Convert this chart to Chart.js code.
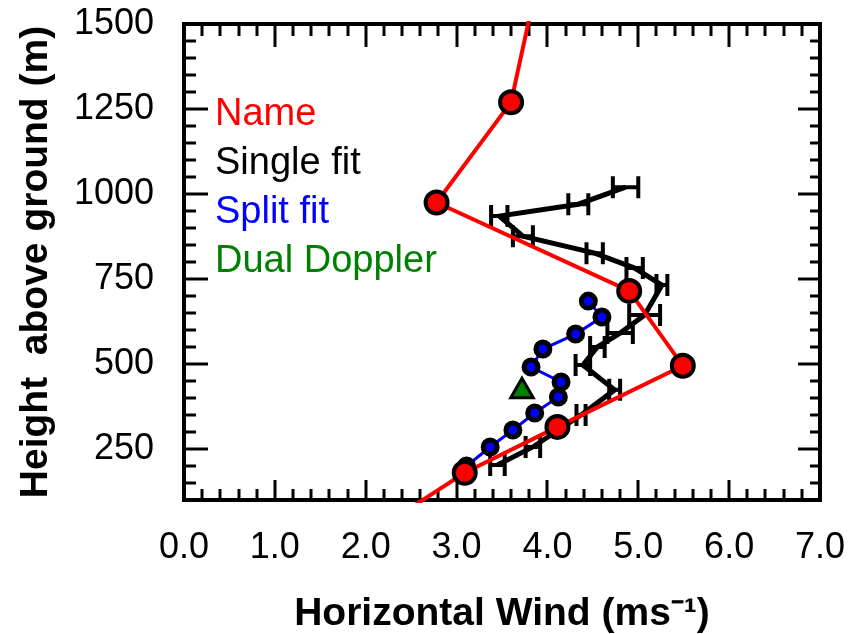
<!DOCTYPE html>
<html>
<head>
<meta charset="utf-8">
<script src="https://cdn.jsdelivr.net/npm/chart.js@4.4.1/dist/chart.umd.min.js"></script>
<style>
  html, body { margin: 0; padding: 0; background: #fff; }
  #wrap { width: 848px; height: 634px; }
</style>
</head>
<body>
<div id="wrap"><canvas id="chart"></canvas></div>
<script>
// Name (red) profile, first and last points lie outside the plotted range
const nameWind = [2.05, 3.09, 4.11, 5.49, 4.90, 2.78, 3.60, 3.95];
const nameHeight = [0, 180, 315, 495, 715, 975, 1270, 1700];

// Single fit (black) with horizontal error bars
const singleWind = [4.86, 4.34, 3.47, 3.73, 4.52, 4.96, 5.26, 5.07, 4.80, 4.55, 4.39, 4.74, 4.37, 3.84, 3.45];
const singleHeight = [1020, 970, 935, 876, 826, 782, 732, 644, 591, 550, 497, 424, 350, 256, 203];
const singleErr = [0.14, 0.11, 0.09, 0.11, 0.09, 0.09, 0.06, 0.17, 0.14, 0.08, 0.08, 0.06, 0.05, 0.08, 0.08];

// Split fit (blue)
const splitWind = [4.45, 4.60, 4.31, 3.95, 3.82, 4.15, 4.12, 3.86, 3.62, 3.37, 3.11];
const splitHeight = [685, 638, 588, 544, 491, 447, 403, 356, 306, 256, 200];

// Dual Doppler (green)
const dualWind = [3.72];
const dualHeight = [420];

const xTicks = [0, 1, 2, 3, 4, 5, 6, 7];
const xTickLabels = ['0.0', '1.0', '2.0', '3.0', '4.0', '5.0', '6.0', '7.0'];
const yTicks = [250, 500, 750, 1000, 1250, 1500];
const yTickLabels = ['250', '500', '750', '1000', '1250', '1500'];

const FONT = '"Liberation Sans", Arial, sans-serif';

function pts(xs, ys) {
  return xs.map((v, i) => ({ x: v, y: ys[i] }));
}

// frame with inward ticks on all four sides, drawn under the data
const framePlugin = {
  id: 'frame',
  beforeDatasetsDraw(chart) {
    const { ctx, chartArea: a, scales: { x, y } } = chart;
    const seg = (x1, y1, x2, y2) => { ctx.beginPath(); ctx.moveTo(x1, y1); ctx.lineTo(x2, y2); ctx.stroke(); };
    ctx.save();
    ctx.strokeStyle = '#000';
    ctx.lineWidth = 3;
    for (let i = 0; i <= 35; i++) {
      const v = i * 0.2;
      const px = Math.round(x.getPixelForValue(v));
      const major = i % 5 === 0;
      seg(px, a.bottom, px, a.bottom - (major ? 20 : 11));
      seg(px, a.top, px, a.top + (major ? 23 : 12));
    }
    for (let v = 150; v < 1500; v += 50) {
      const py = Math.round(y.getPixelForValue(v));
      const major = v % 250 === 0;
      seg(a.left, py, a.left + (major ? 24 : 12), py);
      seg(a.right, py, a.right - (major ? 22 : 10), py);
    }
    ctx.lineWidth = 4;
    ctx.strokeRect(a.left, a.top, a.right - a.left, a.bottom - a.top);
    ctx.restore();
  },
  // error bars for the single fit series
  afterDatasetDraw(chart, args) {
    const ds = chart.data.datasets[args.index];
    if (!ds.errors) return;
    const { ctx, scales: { x, y } } = chart;
    ctx.save();
    ctx.strokeStyle = '#000';
    ctx.lineWidth = 4;
    ds.data.forEach((p, i) => {
      const py = y.getPixelForValue(p.y);
      const x1 = x.getPixelForValue(p.x - ds.errors[i]);
      const x2 = x.getPixelForValue(p.x + ds.errors[i]);
      ctx.beginPath();
      ctx.moveTo(x1, py); ctx.lineTo(x2, py);
      ctx.moveTo(x1, py - 11); ctx.lineTo(x1, py + 11);
      ctx.moveTo(x2, py - 11); ctx.lineTo(x2, py + 11);
      ctx.stroke();
    });
    ctx.restore();
  },
  afterDraw(chart) {
    const { ctx } = chart;
    const order = ['Name', 'Single fit', 'Split fit', 'Dual Doppler'];
    ctx.save();
    ctx.font = '38px ' + FONT;
    ctx.textAlign = 'left';
    ctx.textBaseline = 'alphabetic';
    order.forEach((lab, i) => {
      const ds = chart.data.datasets.find(d => d.label === lab);
      ctx.fillStyle = ds.legendColor;
      ctx.fillText(lab, 215, 125 + i * 49);
    });
    ctx.restore();
  }
};

new Chart(document.getElementById('chart'), {
  type: 'scatter',
  data: {
    datasets: [
      {
        label: 'Name', legendColor: '#ff0000',
        data: pts(nameWind, nameHeight),
        showLine: true, borderColor: '#ff0000', borderWidth: 4,
        pointRadius: 11, pointBackgroundColor: '#ff0000',
        pointBorderColor: '#000', pointBorderWidth: 4, clip: 3
      },
      {
        label: 'Split fit', legendColor: '#0000ff',
        data: pts(splitWind, splitHeight),
        showLine: true, borderColor: '#0000ff', borderWidth: 3,
        pointRadius: 7, pointBackgroundColor: '#0000ff',
        pointBorderColor: '#000', pointBorderWidth: 5
      },
      {
        label: 'Dual Doppler', legendColor: '#008000',
        data: pts(dualWind, dualHeight),
        showLine: false, pointStyle: 'triangle',
        pointRadius: 13, pointBackgroundColor: '#008000',
        pointBorderColor: '#000', pointBorderWidth: 3
      },
      {
        label: 'Single fit', legendColor: '#000000',
        data: pts(singleWind, singleHeight), errors: singleErr,
        showLine: true, borderColor: '#000', borderWidth: 5, pointRadius: 0
      }
    ]
  },
  options: {
    responsive: true,
    maintainAspectRatio: false,
    animation: false,
    layout: { padding: { left: 0, right: 28, top: 24, bottom: 0 } },
    plugins: { legend: { display: false }, tooltip: { enabled: false } },
    scales: {
      x: {
        type: 'linear', min: 0, max: 7,
        afterBuildTicks: s => { s.ticks = xTicks.map(v => ({ value: v })); },
        afterFit: s => { s.height = 134; s.paddingLeft = 0; s.paddingRight = 0; },
        grid: { display: false },
        border: { display: false },
        ticks: {
          callback: v => xTickLabels[xTicks.indexOf(v)],
          autoSkip: false, maxRotation: 0, color: '#000', padding: 22,
          font: { size: 36, family: FONT, lineHeight: 1 }
        },
        title: {
          display: true, text: 'Horizontal Wind (ms⁻¹)', color: '#000',
          font: { size: 39, weight: 'bold', family: FONT, lineHeight: 1 },
          padding: { top: 1, bottom: 0 }
        }
      },
      y: {
        type: 'linear', min: 100, max: 1500,
        afterBuildTicks: s => { s.ticks = yTicks.map(v => ({ value: v })); },
        afterFit: s => { s.width = 184; s.paddingTop = 0; s.paddingBottom = 0; },
        grid: { display: false },
        border: { display: false },
        ticks: {
          callback: v => yTickLabels[yTicks.indexOf(v)],
          autoSkip: false, color: '#000', padding: 22,
          font: { size: 36, family: FONT, lineHeight: 1 }
        },
        title: {
          display: true, text: 'Height  above ground (m)', color: '#000',
          font: { size: 39, weight: 'bold', family: FONT, lineHeight: 1 },
          padding: { top: 17, bottom: 0 }
        }
      }
    }
  },
  plugins: [framePlugin]
});
</script>
</body>
</html>
